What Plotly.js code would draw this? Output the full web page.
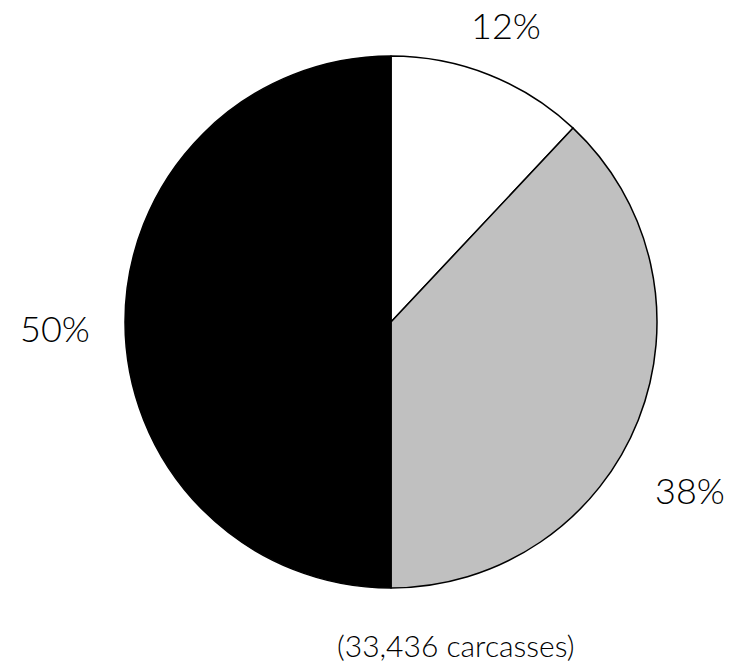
<!DOCTYPE html>
<html>
<head>
<meta charset="utf-8">
<script src="https://cdn.plot.ly/plotly-3.0.1.min.js"></script>
<style>html,body{margin:0;padding:0;background:#fff;}</style>
</head>
<body>
<div id="chart" style="width:738px;height:670px;"></div>
<script>
const categories = ["Category A", "Category B", "Category C"];
const shares = [12, 38, 50];
const sliceLabels = ["12%", "38%", "50%"];
const sliceColors = ["#ffffff", "#c0c0c0", "#000000"];
const caption = "(33,436 carcasses)";

// label placement styling (radial factor and angular nudge in degrees)
const labelRadius = [1.197, 1.29, 1.263];
const labelNudge = [-0.4, 7.7, -1.0];

const W = 738, H = 670;
const cx = 391, cy = 322, R = 266;
const FONT = "Lato, 'Open Sans', sans-serif";

const trace = {
  type: "pie",
  labels: categories,
  values: shares,
  textinfo: "none",
  sort: false,
  direction: "clockwise",
  rotation: 0,
  marker: { colors: sliceColors, line: { color: "#000000", width: 1.5 } },
  domain: { x: [(cx - R) / W, (cx + R) / W], y: [1 - (cy + R) / H, 1 - (cy - R) / H] },
  hoverinfo: "none",
  showlegend: false
};

const total = shares.reduce((a, b) => a + b, 0);
let cum = 0;
const annotations = shares.map((v, i) => {
  const mid = (cum + v / 2) / total * 360 + labelNudge[i];
  cum += v;
  const a = mid * Math.PI / 180;
  const px = cx + R * labelRadius[i] * Math.sin(a);
  const py = cy - R * labelRadius[i] * Math.cos(a);
  return {
    text: sliceLabels[i],
    xref: "paper", yref: "paper",
    x: px / W, y: 1 - py / H,
    xanchor: "center", yanchor: "middle",
    showarrow: false,
    font: { family: FONT, size: 36, color: "#000000", weight: 300 }
  };
});

annotations.push({
  text: caption,
  xref: "paper", yref: "paper",
  x: 456 / W, y: 1 - 645 / H,
  xanchor: "center", yanchor: "middle",
  showarrow: false,
  font: { family: FONT, size: 30, color: "#000000", weight: 300 }
});

const layout = {
  width: W,
  height: H,
  margin: { l: 0, r: 0, t: 0, b: 0 },
  paper_bgcolor: "#ffffff",
  showlegend: false,
  annotations: annotations
};

Plotly.newPlot("chart", [trace], layout, { displayModeBar: false, staticPlot: true });
</script>
</body>
</html>
